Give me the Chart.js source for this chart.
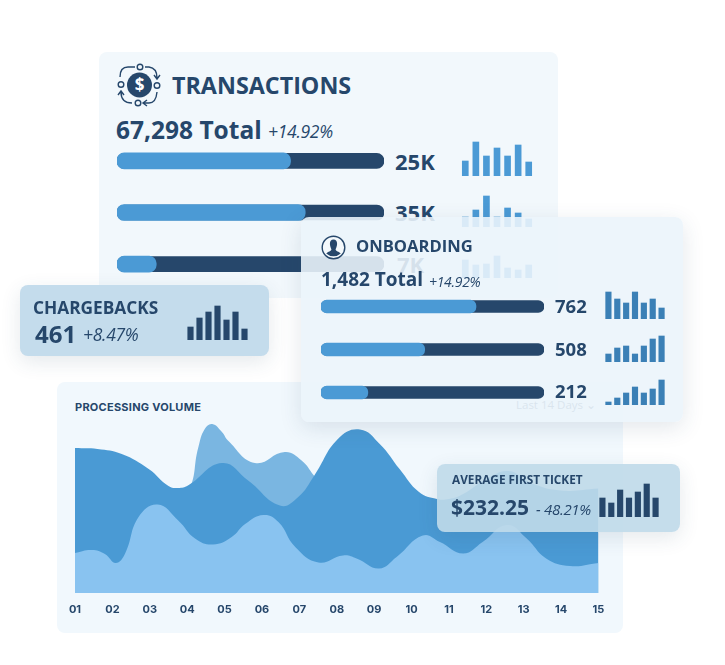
<!DOCTYPE html>
<html>
<head>
<meta charset="utf-8">
<title>Dashboard</title>
<script src="https://cdn.jsdelivr.net/npm/chart.js@4"></script>
<style>
  html, body { margin: 0; padding: 0; background: #fff; }
  body { width: 725px; height: 665px; position: relative; overflow: hidden; font-family: "Open Sans", sans-serif; color: #26476b; }
  .card { position: absolute; border-radius: 8px; }
  canvas { position: absolute; display: block; }
  .t { position: absolute; white-space: nowrap; line-height: 1; }
  .head { font-weight: 700; }
  .num { font-weight: 700; }
  .pct { font-style: italic; font-weight: 400; letter-spacing: -0.3px; }
  .axis { font-family: Inter, sans-serif; font-weight: 700; }
  svg { position: absolute; }
</style>
</head>
<body>

<div class="card" style="left:99px;top:52px;width:459px;height:246px;background:#f2f8fc;z-index:1">
</div>
<div id="layerTx" style="position:absolute;left:0;top:0;z-index:1">
  <svg style="left:116px;top:62px" width="50" height="48" viewBox="0 0 50 48" fill="none" stroke="#26476b" stroke-width="1.4">
    <circle cx="23.5" cy="23" r="12.5" fill="#26476b" stroke="none"/>
    <circle cx="24" cy="5" r="2.8"/><circle cx="5" cy="22.5" r="2.8"/>
    <circle cx="41" cy="23.5" r="2.8"/><circle cx="22" cy="41" r="2.8"/>
    <path d="M19 5H12Q4 5 4 15"/><path d="M29 5H33Q41 6 41 16M38 13L41 17L44 13"/>
    <path d="M5 30Q5 41 16 41M2 33L5 29L8 33"/><path d="M28 41H33Q40 41 41 30M31 38L27 41L31 44"/>
    <text x="23.5" y="29" text-anchor="middle" font-family="Open Sans" font-weight="700" font-size="17" fill="#fff" stroke="none">$</text>
  </svg>
  <div class="t head" style="left:172px;top:74px;font-size:23.3px">TRANSACTIONS</div>
  <div class="t num" style="left:116px;top:118px;font-size:24.5px">67,298 Total</div>
  <div class="t pct" style="left:268px;top:123px;font-size:17.5px">+14.92%</div>
  <div class="t num" style="left:395px;top:150px;font-size:22px">25K</div>
  <div class="t num" style="left:395px;top:201px;font-size:22px">35K</div>
  <div class="t num" style="left:397px;top:253px;font-size:22px">7K</div>
  <canvas id="txBars" width="267" height="155" style="left:117px;top:134.5px"></canvas>
  <canvas id="txSpark1" width="74" height="40" style="left:459.5px;top:136px"></canvas>
  <canvas id="txSpark2" width="74" height="40" style="left:459.5px;top:187px"></canvas>
  <canvas id="txSpark3" width="74" height="40" style="left:459.5px;top:238px"></canvas>
</div>

<div class="card" style="left:57px;top:382px;width:566px;height:251px;background:#f1f8fd;z-index:2">
  <div class="t axis" style="left:18px;top:20px;font-size:11px;letter-spacing:.25px">PROCESSING VOLUME</div>
  <div class="t" style="left:459px;top:17px;font-size:11.5px;color:#4a6680">Last 14 Days &#8964;</div>
  <canvas id="volumeChart" width="566" height="216" style="left:0;top:35px"></canvas>
</div>

<div class="card" style="left:20px;top:285px;width:249px;height:71px;background:#c4dcec;box-shadow:0 6px 20px rgba(40,70,100,.12);z-index:3">
  <div class="t head" style="left:13px;top:14px;font-size:17.3px">CHARGEBACKS</div>
  <div class="t num" style="left:15px;top:37px;font-size:24px">461</div>
  <div class="t pct" style="left:63px;top:41px;font-size:17.5px">+8.47%</div>
  <canvas id="cbSpark" width="63" height="40" style="left:165.5px;top:15px"></canvas>
</div>

<div class="card" style="left:301px;top:217px;width:382px;height:205px;background:rgba(235,244,250,.89);box-shadow:0 6px 22px rgba(40,70,100,.13);z-index:4">
  <svg style="left:20px;top:18px" width="25" height="25" viewBox="0 0 25 25">
    <circle cx="12.5" cy="12.5" r="11.3" fill="#f4f9fc" stroke="#26476b" stroke-width="1.4"/>
    <path d="M12.5 4.5C9.6 4.5 8.6 7 9 10C9.3 12 10 13 10.4 14.4C10.4 16 7 16.4 5.2 18.6A11 11 0 0 0 19.8 18.6C18 16.4 14.6 16 14.6 14.4C15 13 15.7 12 16 10C16.4 7 15.4 4.5 12.5 4.5Z" fill="#26476b"/>
  </svg>
  <div class="t head" style="left:55px;top:21px;font-size:16.6px">ONBOARDING</div>
  <div class="t num" style="left:20px;top:53px;font-size:19px">1,482 Total</div>
  <div class="t pct" style="left:128px;top:58px;font-size:14px">+14.92%</div>
  <div class="t num" style="left:254px;top:80px;font-size:18.5px">762</div>
  <div class="t num" style="left:254px;top:123px;font-size:18.5px">508</div>
  <div class="t num" style="left:254px;top:165px;font-size:18.5px">212</div>
  <canvas id="onBars" width="223" height="129" style="left:20px;top:67.5px"></canvas>
  <canvas id="onSpark1" width="62" height="40" style="left:303px;top:62px"></canvas>
  <canvas id="onSpark2" width="62" height="40" style="left:303px;top:105px"></canvas>
  <canvas id="onSpark3" width="62" height="40" style="left:303px;top:147.5px"></canvas>
</div>

<div class="card" style="left:437px;top:464px;width:243px;height:68px;background:rgba(191,218,233,.91);box-shadow:0 6px 20px rgba(40,70,100,.12);z-index:5">
  <div class="t head" style="left:15px;top:10px;font-size:11.8px">AVERAGE FIRST TICKET</div>
  <div class="t num" style="left:14px;top:33px;font-size:21px">$232.25</div>
  <div class="t pct" style="left:99px;top:38px;font-size:15px">- 48.21%</div>
  <canvas id="ticketSpark" width="62" height="40" style="left:161px;top:13px"></canvas>
</div>

<script>
  // progress rows, percent of the track
  var rowNames = ['a', 'b', 'c'];
  var trackValues = [100, 100, 100];
  var txFill = [65, 70.5, 14.7];
  var onFill = [69.5, 46.5, 21];

  // small bar sets
  var sparkLabels = ['1', '2', '3', '4', '5', '6', '7'];
  var txSpark1 = [15, 34, 20, 28, 20, 31, 14];
  var txSpark2 = [10, 17, 31, 10, 19, 14, 8];
  var txSpark3 = [18, 13, 14, 22, 10, 8, 13];
  var onSpark1 = [27, 20, 16, 27, 16, 20, 11];
  var onSpark2 = [8, 14, 16, 8, 16, 23, 26];
  var onSpark3 = [3, 7, 12, 18, 12, 16, 25];
  var cbSpark = [13, 22, 28, 34, 20, 28, 11];
  var ticketSpark = [19, 14, 27, 19, 25, 33, 19];

  // processing volume
  var dayLabels = ['01', '02', '03', '04', '05', '06', '07', '08', '09', '10', '11', '12', '13', '14', '15'];

  var lightDays = [1, 1.45, 1.8, 2.09, 2.34, 2.7, 3.21, 3.76, 4.21, 4.69, 5.19, 5.55, 6.04, 6.44, 6.89, 7.51, 8.17, 8.53, 9.13, 9.6, 10.3, 10.76, 11.38, 11.9, 12.55, 13.08, 13.6, 14.24, 15];
  var lightValues = [40, 43, 39, 30, 39.5, 76, 88.5, 72.5, 54.5, 48.5, 56, 69, 78, 71, 46, 30.5, 37.5, 34.5, 24.5, 36, 57.5, 51, 39.5, 51, 68, 54.5, 34.5, 27, 30];

  var darkDays = [1, 1.6, 2.25, 2.97, 3.5, 3.76, 4.02, 4.93, 5.63, 6.48, 6.97, 7.4, 8.03, 8.62, 9.15, 9.68, 10.2, 10.68, 11, 11.38, 12, 12.6, 13.2, 14, 15];
  var darkValues = [145, 144, 139, 124, 107, 105, 107.5, 130, 112.5, 87.5, 96, 117.5, 154, 163.5, 149, 124, 101, 94, 94, 99, 114, 122, 110, 102.5, 104.5];

  var midDays = [1, 3, 4, 4.3, 4.47, 4.67, 4.93, 5.09, 5.81, 6.61, 7.06, 7.39, 8, 15];
  var midValues = [60, 60, 100, 146, 164, 169, 161, 152.5, 130, 141, 132.5, 117.5, 90, 60];

  function toPoints(xs, ys) {
    return xs.map(function (x, i) { return { x: x, y: ys[i] }; });
  }

  function makeProgress(id, fillValues, thickness) {
    new Chart(document.getElementById(id), {
      type: 'bar',
      data: {
        labels: rowNames,
        datasets: [
          { data: fillValues, backgroundColor: '#4b9ad5', borderRadius: thickness / 2, borderSkipped: false, barThickness: thickness + 1, grouped: false },
          { data: trackValues, backgroundColor: '#26476b', borderRadius: thickness / 2, borderSkipped: false, barThickness: thickness, grouped: false }
        ]
      },
      options: {
        indexAxis: 'y',
        responsive: false,
        animation: false,
        plugins: { legend: { display: false }, tooltip: { enabled: false } },
        scales: {
          x: { display: false, min: 0, max: 100 },
          y: { display: false }
        }
      }
    });
  }

  function makeSpark(id, values, color, barWidth) {
    new Chart(document.getElementById(id), {
      type: 'bar',
      data: {
        labels: sparkLabels,
        datasets: [{ data: values, backgroundColor: color, barThickness: barWidth }]
      },
      options: {
        responsive: false,
        animation: false,
        plugins: { legend: { display: false }, tooltip: { enabled: false } },
        scales: {
          x: { display: false },
          y: { display: false, min: 0, max: 40 }
        }
      }
    });
  }

  makeProgress('txBars', txFill, 15);
  makeProgress('onBars', onFill, 12);

  makeSpark('txSpark1', txSpark1, '#4b9ad5', 6);
  makeSpark('txSpark2', txSpark2, '#4b9ad5', 6);
  makeSpark('txSpark3', txSpark3, '#4b9ad5', 6);
  makeSpark('onSpark1', onSpark1, '#3b80b6', 5.5);
  makeSpark('onSpark2', onSpark2, '#3b80b6', 5.5);
  makeSpark('onSpark3', onSpark3, '#3b80b6', 5.5);
  makeSpark('cbSpark', cbSpark, '#26476b', 5.5);
  makeSpark('ticketSpark', ticketSpark, '#26476b', 5.5);

  // first dataset paints on top
  new Chart(document.getElementById('volumeChart'), {
    type: 'line',
    data: {
      datasets: [
        { data: toPoints(lightDays, lightValues), backgroundColor: '#89c3f0', fill: 'origin', borderWidth: 0, pointRadius: 0, tension: 0.45 },
        { data: toPoints(darkDays, darkValues), backgroundColor: '#4a9ad4', fill: 'origin', borderWidth: 0, pointRadius: 0, tension: 0.45 },
        { data: toPoints(midDays, midValues), backgroundColor: '#7ab6e1', fill: 'origin', borderWidth: 0, pointRadius: 0, tension: 0.45 }
      ]
    },
    options: {
      responsive: false,
      animation: false,
      layout: { padding: { left: 18, right: 24.5 } },
      plugins: { legend: { display: false }, tooltip: { enabled: false } },
      scales: {
        x: {
          type: 'linear',
          min: 1,
          max: 15,
          border: { display: false },
          grid: { display: false, drawTicks: false },
          afterFit: function (scale) { scale.height = 40; },
          ticks: {
            stepSize: 1,
            autoSkip: false,
            maxRotation: 0,
            padding: 10,
            color: '#26476b',
            font: { family: 'Inter', weight: 700, size: 11 },
            callback: function (value) { return dayLabels[value - 1]; }
          }
        },
        y: { display: false, min: 0, max: 176 }
      }
    }
  });
</script>
</body>
</html>
